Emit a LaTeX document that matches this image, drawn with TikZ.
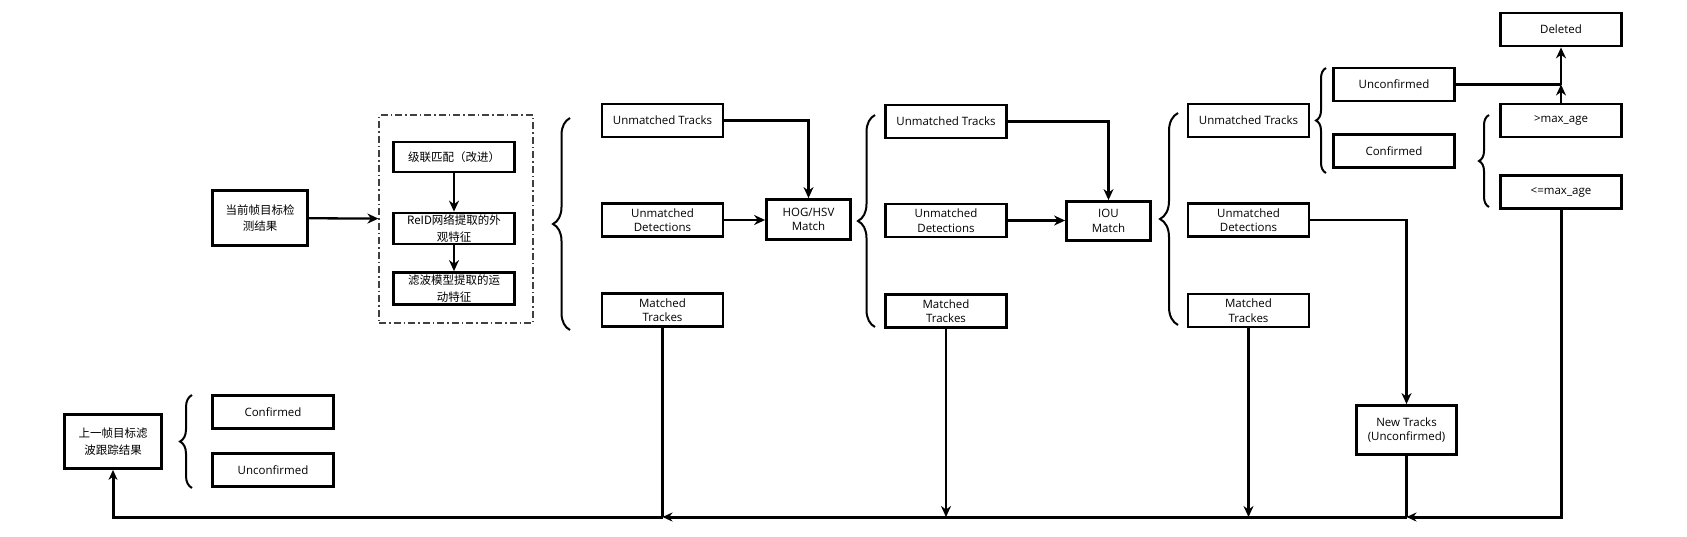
\documentclass[tikz,border=0pt]{standalone}
\usepackage{fontspec}
\setmainfont{Open Sans}
\newfontfamily\cjkfont{Noto Sans CJK SC}
\usetikzlibrary{arrows.meta,decorations.pathreplacing}

\begin{document}
\begin{tikzpicture}[x=1pt,y=-1pt,
    box/.style={draw,line width=2.8pt,minimum width=121pt,minimum height=33pt,
      inner sep=1pt,align=center,font=\fontsize{11.5}{14.5}\selectfont},
    cnbox/.style={box,font=\cjkfont\fontsize{11.5}{16.5}\selectfont},
    line/.style={line width=2.3pt},
    arr/.style={line,-{Stealth[length=11pt,width=10pt]}},
    bline/.style={line width=3pt,-{Stealth[length=10pt,width=9pt]}},
    brc/.style={decorate,decoration={brace,amplitude=#1},line width=2pt}]

  \useasboundingbox (0,0) rectangle (1687,536);

  % detection side
  \node[cnbox,minimum width=95pt,minimum height=55pt] (cur) at (260,218) {当前帧目标检\\测结果};
  \node[draw,line width=1.2pt,black!75,dash pattern=on 7pt off 3pt on 1.5pt off 3pt,
    minimum width=154pt,minimum height=208pt] (grp) at (456,219) {};
  \node[cnbox,minimum height=30pt] (casc) at (454,157) {级联匹配（改进）};
  \node[cnbox,minimum height=31pt] (reid) at (454,228.5) {ReID网络提取的外\\观特征};
  \node[cnbox,minimum height=32pt] (filt) at (454,288.5) {滤波模型提取的运\\动特征};
  \draw[arr] (cur) -- (grp);
  \draw[arr] (casc) -- (reid);
  \draw[arr] (reid) -- (filt);

  % first stage
  \draw[brc=17pt] (570,330) -- (570,118);
  \node[box] (ut1) at (662.5,120.5) {Unmatched Tracks};
  \node[box] (ud1) at (662.5,220) {Unmatched\\Detections};
  \node[box] (mt1) at (662.5,310) {Matched\\Trackes};
  \node[box,minimum width=84pt,minimum height=40pt] (hog) at (808.5,219.5) {HOG/HSV\\Match};
  \draw[arr] (ut1.east) -| (hog.north);
  \draw[arr] (ud1.east) -- (ud1.east -| hog.west);

  % second stage
  \draw[brc=17pt] (875,327) -- (875,115);
  \node[box] (ut2) at (946,121.5) {Unmatched Tracks};
  \node[box] (ud2) at (946,220.5) {Unmatched\\Detections};
  \node[box] (mt2) at (946,311) {Matched\\Trackes};
  \node[box,minimum width=84pt,minimum height=39pt] (iou) at (1108.5,221) {IOU\\Match};
  \draw[arr] (ut2.east) -| (iou.north);
  \draw[arr] (ud2.east) -- (ud2.east -| iou.west);

  % third stage
  \draw[brc=18pt] (1178,325) -- (1178,113);
  \node[box] (ut3) at (1248.5,120.5) {Unmatched Tracks};
  \node[box] (ud3) at (1248.5,220) {Unmatched\\Detections};
  \node[box] (mt3) at (1248.5,310.5) {Matched\\Trackes};
  \draw[brc=10pt] (1326,173) -- (1326,68);
  \node[box] (unconf) at (1394,84.5) {Unconfirmed};
  \node[box] (conf) at (1394,151) {Confirmed};
  \draw[brc=10pt] (1489,207) -- (1489,115);
  \node[box] (del) at (1561,29.5) {Deleted};
  \node[box] (gtmax) at (1561,120.5) {>max\_age};
  \node[box] (lemax) at (1561,192) {<=max\_age};
  \node[box,minimum width=100pt,minimum height=49pt] (newt) at (1406.5,430) {New Tracks\\(Unconfirmed)};
  \coordinate (jd) at (1561,84.5);
  \draw[arr] (gtmax) -- (jd);
  \draw[arr] (jd) -- (del);
  \draw[line] (unconf.east) -- (jd);
  \draw[arr] (ud3.east) -| (newt.north);

  % previous frame
  \node[cnbox,minimum width=97pt,minimum height=54pt] (prev) at (113,441.5) {上一帧目标滤\\波跟踪结果};
  \draw[brc=12pt] (192,488) -- (192,395);
  \node[box] (conf0) at (273,412) {Confirmed};
  \node[box] (unconf0) at (273,470) {Unconfirmed};

  % feedback line
  \coordinate (j1) at (662.5,517);
  \coordinate (j2) at (946,517);
  \coordinate (j3) at (1248.5,517);
  \coordinate (j4) at (1406.5,517);
  \coordinate (jl) at (113,517);
  \draw[line] (mt1) -- (j1);
  \draw[arr] (mt2) -- (j2);
  \draw[arr] (mt3) -- (j3);
  \draw[line] (newt) -- (j4);
  \draw[bline] (lemax) |- (j4);
  \draw[bline] (j4) -- (j1);
  \draw[bline] (j1) -- (jl) -- (prev);

\end{tikzpicture}
\end{document}
